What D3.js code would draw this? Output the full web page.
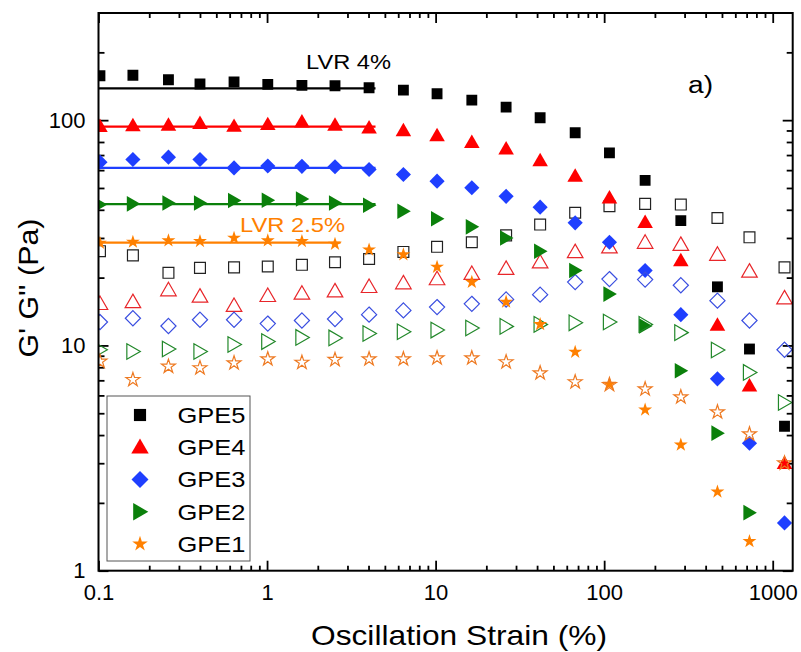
<!DOCTYPE html>
<html><head><meta charset="utf-8">
<script src="https://cdn.jsdelivr.net/npm/d3@7"></script>
<style>
body{margin:0;background:#fff}
svg{display:block}
text{font-family:"Liberation Sans",Arial,Helvetica,sans-serif}
</style>
</head><body>
<svg id="chart" width="801" height="652"></svg>
<script>
// ---------- data ----------
const strain = [0.102,0.160,0.260,0.400,0.637,1.01,1.61,2.53,4.03,6.44,10.2,16.4,26.2,41.7,67.3,107.5,175,285,470,728,1175];

const seriesNames = ["GPE5","GPE4","GPE3","GPE2","GPE1"];

// storage modulus G' (filled symbols)
const gpe5Storage = [157.5,158.3,151.2,144.7,147.8,144.1,142.6,142.2,139.3,135.9,131.0,122.7,114.2,102.5,87.9,71.6,54.0,35.8,18.2,9.64,4.38];
const gpe4Storage = [93.8,94.7,95.0,96.7,94.0,95.7,98.4,95.0,92.5,90.0,85.5,79.8,74.6,66.2,56.4,45.2,35.2,23.8,12.3,6.62,3.0];
const gpe3Storage = [65.1,66.9,68.5,66.9,61.4,62.6,62.4,62.1,60.4,57.4,53.6,50.1,45.9,41.1,35.0,28.7,21.5,13.7,7.11,3.68,1.63];
const gpe2Storage = [42.2,42.5,42.9,42.9,44.0,44.1,44.7,42.9,41.9,39.4,36.5,33.6,30.0,26.2,21.5,16.9,12.2,7.72,4.08,1.81];
const gpe1Storage = [28.5,28.8,29.2,29.0,30.0,29.2,29.0,28.2,26.6,25.3,22.3,19.1,15.6,12.4,9.35,6.74,5.18,3.62,2.24,1.35];

// loss modulus G'' (open symbols)
const gpe5Loss = [26.2,25.1,21.0,22.1,22.2,22.4,22.8,23.4,24.2,26.0,27.4,28.7,30.8,34.4,38.8,41.5,42.5,42.2,36.8,30.2,22.2];
const gpe4Loss = [15.3,15.6,17.6,16.5,15.0,16.6,17.0,17.4,18.2,18.9,19.7,20.8,21.9,23.4,26.0,27.3,28.6,28.0,25.3,21.3,16.2];
const gpe3Loss = [12.7,13.2,12.2,13.0,13.0,12.5,12.9,13.1,13.7,14.3,14.8,15.3,16.0,16.8,19.1,19.7,19.6,18.5,15.8,12.9,9.57];
const gpe2Loss = [9.57,9.40,9.64,9.40,10.1,10.4,10.85,10.8,11.3,11.5,11.7,11.95,12.15,12.4,12.6,12.7,12.4,11.4,9.54,7.59,5.58];
const gpe1Loss = [8.49,7.04,8.07,7.94,8.35,8.70,8.40,8.64,8.70,8.70,8.79,8.79,8.44,7.54,6.88,6.69,6.40,5.90,5.06,4.04,3.0];

// linear viscoelastic region plateau lines
const lvrLevel = [138.5,93.6,61.4,42.4,28.6];
const lvrStart = [0.1,0.1,0.1,0.1,0.1];
const lvrEnd = [4.4,4.4,4.4,4.4,2.73];
const lvrLabels = ["LVR 4%","LVR 2.5%"];

const xTicks = [0.1,1,10,100,1000];
const xTickLabels = ["0.1","1","10","100","1000"];
const yTicks = [1,10,100];
const yTickLabels = ["1","10","100"];
const xTitle = "Oscillation Strain (%)";
const yTitle = "G' G'' (Pa)";
const panelLabel = "a)";

// ---------- styles ----------
const fillColors = ["#000000","#ff0000","#1f3fff","#0b800b","#ff8000"];
const openColors = ["#222222","#e8262a","#3a4ee0","#22882a","#ee7a22"];

const storage = [gpe5Storage,gpe4Storage,gpe3Storage,gpe2Storage,gpe1Storage];
const loss = [gpe5Loss,gpe4Loss,gpe3Loss,gpe2Loss,gpe1Loss];

const svg = d3.select("#chart");
const L = 98.5, R = 792.7, T = 13, B = 570.7;
const x = d3.scaleLog().domain([0.1, 1314]).range([L, R]);
const y = d3.scaleLog().domain([1, 299]).range([B, T]);

// symbol types
const diamond = {draw(ctx, size){const r=Math.sqrt(size/2);ctx.moveTo(0,-r);ctx.lineTo(r,0);ctx.lineTo(0,r);ctx.lineTo(-r,0);ctx.closePath();}};
const triUp = {draw(ctx,size){const s=Math.sqrt(size*4/Math.sqrt(3));const h=s*Math.sqrt(3)/2;ctx.moveTo(0,-h*0.58);ctx.lineTo(s/2,h*0.42);ctx.lineTo(-s/2,h*0.42);ctx.closePath();}};
const triRight = {draw(ctx,size){const s=Math.sqrt(size*4/Math.sqrt(3));const h=s*Math.sqrt(3)/2;ctx.moveTo(h*0.55,0);ctx.lineTo(-h*0.45,s/2);ctx.lineTo(-h*0.45,-s/2);ctx.closePath();}};
const symTypes = [d3.symbolSquare, triUp, diamond, triRight, d3.symbolStar];
const symSizes = [118, 105, 115, 105, 60];

// minor tick values
const minorX = [], minorY = [];
for (let e=-1;e<=3;e++) for (let m=2;m<=9;m++){const v=m*Math.pow(10,e); if(v<1314) minorX.push(v);}
for (let e=0;e<=2;e++) for (let m=2;m<=9;m++){const v=m*Math.pow(10,e); if(v<299) minorY.push(v);}

function styleAxis(g){
  g.select(".domain").remove();
  g.selectAll(".tick line").attr("stroke","#000").attr("stroke-width",1.8);
  g.selectAll("text").attr("font-size",22).attr("fill","#000").attr("font-family",'"Liberation Sans",Arial,sans-serif');
}
// major ticks (inward)
svg.append("g").attr("transform",`translate(0,${B})`)
  .call(d3.axisBottom(x).tickValues(xTicks).tickFormat((d,i)=>xTickLabels[i]).tickSizeInner(-10).tickSizeOuter(0).tickPadding(14))
  .call(styleAxis);
svg.append("g").attr("transform",`translate(0,${T})`)
  .call(d3.axisTop(x).tickValues(xTicks).tickFormat("").tickSizeInner(-10).tickSizeOuter(0)).call(styleAxis);
svg.append("g").attr("transform",`translate(${L},0)`)
  .call(d3.axisLeft(y).tickValues(yTicks).tickFormat((d,i)=>yTickLabels[i]).tickSizeInner(-10).tickSizeOuter(0).tickPadding(13))
  .call(styleAxis);
svg.append("g").attr("transform",`translate(${R},0)`)
  .call(d3.axisRight(y).tickValues(yTicks).tickFormat("").tickSizeInner(-10).tickSizeOuter(0)).call(styleAxis);
// minor ticks
svg.append("g").attr("transform",`translate(0,${B})`).call(d3.axisBottom(x).tickValues(minorX).tickFormat("").tickSizeInner(-5).tickSizeOuter(0)).call(styleAxis);
svg.append("g").attr("transform",`translate(0,${T})`).call(d3.axisTop(x).tickValues(minorX).tickFormat("").tickSizeInner(-5).tickSizeOuter(0)).call(styleAxis);
svg.append("g").attr("transform",`translate(${L},0)`).call(d3.axisLeft(y).tickValues(minorY).tickFormat("").tickSizeInner(-6).tickSizeOuter(0)).call(styleAxis);
svg.append("g").attr("transform",`translate(${R},0)`).call(d3.axisRight(y).tickValues(minorY).tickFormat("").tickSizeInner(-6).tickSizeOuter(0)).call(styleAxis);

// plot clip
svg.append("defs").append("clipPath").attr("id","clip").append("rect").attr("x",L).attr("y",T).attr("width",R-L).attr("height",B-T);
const plot = svg.append("g").attr("clip-path","url(#clip)");

// LVR lines
lvrLevel.forEach((v,i)=>{
  plot.append("line").attr("x1",x(lvrStart[i])).attr("x2",x(lvrEnd[i])).attr("y1",y(v)).attr("y2",y(v))
    .attr("stroke",fillColors[i]).attr("stroke-width",2.2);
});

// markers: each sample filled (G') then open (G'')
for (let s=0;s<5;s++){
  const sym = d3.symbol().type(symTypes[s]).size(symSizes[s]);
  plot.append("g").selectAll("path").data(storage[s]).join("path")
    .attr("d",sym).attr("transform",(d,i)=>`translate(${x(strain[i])},${y(d)})`)
    .attr("fill",fillColors[s]);
  plot.append("g").selectAll("path").data(loss[s]).join("path")
    .attr("d",sym).attr("transform",(d,i)=>`translate(${x(strain[i])},${y(d)})`)
    .attr("fill","none").attr("stroke",openColors[s]).attr("stroke-width",1.2);
}

// frame
svg.append("rect").attr("x",L).attr("y",T).attr("width",R-L).attr("height",B-T)
  .attr("fill","none").attr("stroke","#000").attr("stroke-width",2);

// annotations
svg.append("text").attr("x",306).attr("y",68.5).attr("font-size",20).attr("textLength",85).attr("lengthAdjust","spacingAndGlyphs").text(lvrLabels[0]);
svg.append("text").attr("x",240).attr("y",232).attr("font-size",21).attr("textLength",105).attr("lengthAdjust","spacingAndGlyphs").attr("fill",fillColors[4]).text(lvrLabels[1]);
svg.append("text").attr("x",688).attr("y",93).attr("font-size",23).attr("textLength",25).attr("lengthAdjust","spacingAndGlyphs").text(panelLabel);

// axis titles
svg.append("text").attr("x",459).attr("y",645).attr("text-anchor","middle").attr("font-size",28)
  .attr("textLength",296).attr("lengthAdjust","spacingAndGlyphs").text(xTitle);
svg.append("text").attr("transform","translate(38,288) rotate(-90)").attr("text-anchor","middle").attr("font-size",28)
  .attr("textLength",139).attr("lengthAdjust","spacingAndGlyphs").text(yTitle);

// legend
const lg = svg.append("g");
lg.append("rect").attr("x",107).attr("y",396).attr("width",143).attr("height",165).attr("fill","#fff").attr("stroke","#555").attr("stroke-width",1);
const rowY = d3.scalePoint().domain(seriesNames).range([415,544]);
seriesNames.forEach((n,i)=>{
  lg.append("path").attr("d",d3.symbol().type(symTypes[i]).size(symSizes[i]*1.25)()).attr("transform",`translate(140,${rowY(n)})`).attr("fill",fillColors[i]);
  lg.append("text").attr("x",177.5).attr("y",rowY(n)+7.8).attr("font-size",22).attr("textLength",68).attr("lengthAdjust","spacingAndGlyphs").text(n);
});
</script>
</body></html>
